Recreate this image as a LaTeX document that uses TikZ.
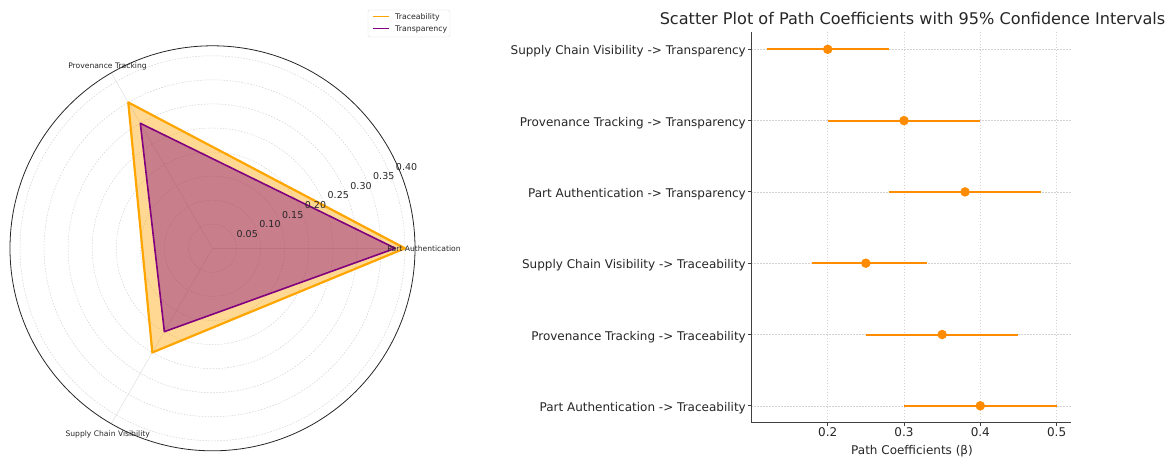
\documentclass[tikz,border=0pt]{standalone}
\usepackage{fontspec}
\setmainfont{DejaVu Sans}
\usetikzlibrary{positioning}

\definecolor{trace}{HTML}{FFA500}
\definecolor{transp}{HTML}{800080}
\definecolor{errorange}{HTML}{FF8C00}
\definecolor{txt}{HTML}{262626}

\begin{document}
\begin{tikzpicture}[x=1pt,y=-1pt,
    gridline/.style={gray!35,dash pattern=on 1.5pt off 1.5pt,line width=0.5pt},
    spoke/.style={gray!25,line width=0.5pt},
    spine/.style={black!75,line width=1pt},
    rlabel/.style={font=\fontsize{9.5}{10}\selectfont,text=txt,inner sep=0pt},
    axlabel/.style={font=\fontsize{7.6}{9}\selectfont,text=txt,inner sep=0pt,anchor=base},
    leglabel/.style={font=\fontsize{7.8}{9}\selectfont,text=txt,inner sep=0pt,anchor=base west},
    ticklabel/.style={font=\fontsize{12}{14}\selectfont,text=txt,inner sep=0pt},
    errbar/.style={errorange,line width=2pt},
    dotmark/.style={circle,fill=errorange,inner sep=0pt,minimum size=9.5pt},
  ]
\useasboundingbox (0,0) rectangle (1173,456);

% radar chart
\begin{scope}[shift={(212.5,248.3)},x=481.25pt,y=481.25pt]
  \draw[gridline] (0,0) circle (0.05);
  \draw[gridline] (0,0) circle (0.10);
  \draw[gridline] (0,0) circle (0.15);
  \draw[gridline] (0,0) circle (0.20);
  \draw[gridline] (0,0) circle (0.25);
  \draw[gridline] (0,0) circle (0.30);
  \draw[gridline] (0,0) circle (0.35);
  \draw[gridline] (0,0) circle (0.40);
  \coordinate (o) at (0,0);
  \coordinate (e-pa) at (0:0.4208);
  \coordinate (e-pt) at (120:0.4208);
  \coordinate (e-scv) at (240:0.4208);
  \draw[spoke] (o) -- (e-pa);
  \draw[spoke] (o) -- (e-pt);
  \draw[spoke] (o) -- (e-scv);
  % Traceability
  \coordinate (tra-pa) at (0:0.40);
  \coordinate (tra-pt) at (120:0.35);
  \coordinate (tra-scv) at (240:0.25);
  % Transparency
  \coordinate (trp-pa) at (0:0.38);
  \coordinate (trp-pt) at (120:0.30);
  \coordinate (trp-scv) at (240:0.20);
  \fill[trace,opacity=0.42] (tra-pa) -- (tra-pt) -- (tra-scv) -- cycle;
  \draw[trace,line width=2.2pt,line join=round] (tra-pa) -- (tra-pt) -- (tra-scv) -- cycle;
  \fill[transp,opacity=0.42] (trp-pa) -- (trp-pt) -- (trp-scv) -- cycle;
  \draw[transp,line width=1.6pt,line join=round] (trp-pa) -- (trp-pt) -- (trp-scv) -- cycle;
  \draw[black!85,line width=0.8pt] (o) circle (0.4208);
  \node[rlabel] (rt05) at (22.8:0.0783) {0.05};
  \node[rlabel] (rt10) at (22.8:0.1296) {0.10};
  \node[rlabel] (rt15) at (22.8:0.1809) {0.15};
  \node[rlabel] (rt20) at (22.8:0.2322) {0.20};
  \node[rlabel] (rt25) at (22.8:0.2835) {0.25};
  \node[rlabel] (rt30) at (22.8:0.3348) {0.30};
  \node[rlabel] (rt35) at (22.8:0.3861) {0.35};
  \node[rlabel] (rt40) at (22.8:0.4374) {0.40};
\end{scope}
\node[axlabel] (pa) at (424,251) {Part Authentication};
\node[axlabel] (pt) at (107.5,68.3) {Provenance Tracking};
\node[axlabel] (scv) at (107.7,436) {Supply Chain Visibility};

% legend
\draw[gray!25,fill=white,rounded corners=2pt] (368,10) rectangle (450,37);
\coordinate (lg1a) at (373,16.3);
\coordinate (lg1b) at (389,16.3);
\coordinate (lg2a) at (373,28.3);
\coordinate (lg2b) at (389,28.3);
\draw[trace,line width=1.5pt] (lg1a) -- (lg1b);
\draw[transp,line width=1.5pt] (lg2a) -- (lg2b);
\node[leglabel] (lgtra) at (395,19.1) {Traceability};
\node[leglabel] (lgtrp) at (395,31.1) {Transparency};

% scatter plot with error bars
\node[font=\fontsize{16.1}{18}\selectfont,text=txt,inner sep=0pt,anchor=base] (title) at (912.5,24.5)
  {Scatter Plot of Path Coefficients with 95\% Confidence Intervals};
\begin{scope}[shift={(675.1,0)},x=763pt]
  \draw[gridline] (0.2,31.5) -- (0.2,422.7);
  \draw[gridline] (0.3,31.5) -- (0.3,422.7);
  \draw[gridline] (0.4,31.5) -- (0.4,422.7);
  \draw[gridline] (0.5,31.5) -- (0.5,422.7);
  \draw[gridline] (0.1001,49.3) -- (0.5189,49.3);
  \draw[gridline] (0.1001,120.6) -- (0.5189,120.6);
  \draw[gridline] (0.1001,191.9) -- (0.5189,191.9);
  \draw[gridline] (0.1001,263.2) -- (0.5189,263.2);
  \draw[gridline] (0.1001,334.5) -- (0.5189,334.5);
  \draw[gridline] (0.1001,405.8) -- (0.5189,405.8);
  \draw[spine] (0.1001,31.5) -- (0.1001,422.7) -- (0.5189,422.7);
  % ticks
  \draw[spine] (0.1001,49.3) -- ++(-3.5pt,0pt);
  \draw[spine] (0.1001,120.6) -- ++(-3.5pt,0pt);
  \draw[spine] (0.1001,191.9) -- ++(-3.5pt,0pt);
  \draw[spine] (0.1001,263.2) -- ++(-3.5pt,0pt);
  \draw[spine] (0.1001,334.5) -- ++(-3.5pt,0pt);
  \draw[spine] (0.1001,405.8) -- ++(-3.5pt,0pt);
  \draw[spine] (0.2,422.7) -- ++(0pt,-3.5pt);
  \draw[spine] (0.3,422.7) -- ++(0pt,-3.5pt);
  \draw[spine] (0.4,422.7) -- ++(0pt,-3.5pt);
  \draw[spine] (0.5,422.7) -- ++(0pt,-3.5pt);
  \node[ticklabel,anchor=base east] (y1) at (0.0929,54.8) {Supply Chain Visibility -> Transparency};
  \node[ticklabel,anchor=base east] (y2) at (0.0929,126.1) {Provenance Tracking -> Transparency};
  \node[ticklabel,anchor=base east] (y3) at (0.0929,197.4) {Part Authentication -> Transparency};
  \node[ticklabel,anchor=base east] (y4) at (0.0929,268.7) {Supply Chain Visibility -> Traceability};
  \node[ticklabel,anchor=base east] (y5) at (0.0929,340.0) {Provenance Tracking -> Traceability};
  \node[ticklabel,anchor=base east] (y6) at (0.0929,411.3) {Part Authentication -> Traceability};
  \node[ticklabel,anchor=base] (x2) at (0.2,436.5) {0.2};
  \node[ticklabel,anchor=base] (x3) at (0.3,436.5) {0.3};
  \node[ticklabel,anchor=base] (x4) at (0.4,436.5) {0.4};
  \node[ticklabel,anchor=base] (x5) at (0.5,436.5) {0.5};
  \node[ticklabel,anchor=base] (xlab) at (0.3105,454.3) {Path Coefficients (β)};
  % intervals
  \coordinate (b1a) at (0.12,49.3);  \coordinate (b1b) at (0.28,49.3);
  \coordinate (b2a) at (0.20,120.6); \coordinate (b2b) at (0.40,120.6);
  \coordinate (b3a) at (0.28,191.9); \coordinate (b3b) at (0.48,191.9);
  \coordinate (b4a) at (0.18,263.2); \coordinate (b4b) at (0.33,263.2);
  \coordinate (b5a) at (0.25,334.5); \coordinate (b5b) at (0.45,334.5);
  \coordinate (b6a) at (0.30,405.8); \coordinate (b6b) at (0.50,405.8);
  \draw[errbar] (b1a) -- (b1b);
  \draw[errbar] (b2a) -- (b2b);
  \draw[errbar] (b3a) -- (b3b);
  \draw[errbar] (b4a) -- (b4b);
  \draw[errbar] (b5a) -- (b5b);
  \draw[errbar] (b6a) -- (b6b);
  \node[dotmark] (p1) at (0.20,49.3) {};
  \node[dotmark] (p2) at (0.30,120.6) {};
  \node[dotmark] (p3) at (0.38,191.9) {};
  \node[dotmark] (p4) at (0.25,263.2) {};
  \node[dotmark] (p5) at (0.35,334.5) {};
  \node[dotmark] (p6) at (0.40,405.8) {};
\end{scope}
\end{tikzpicture}
\end{document}
